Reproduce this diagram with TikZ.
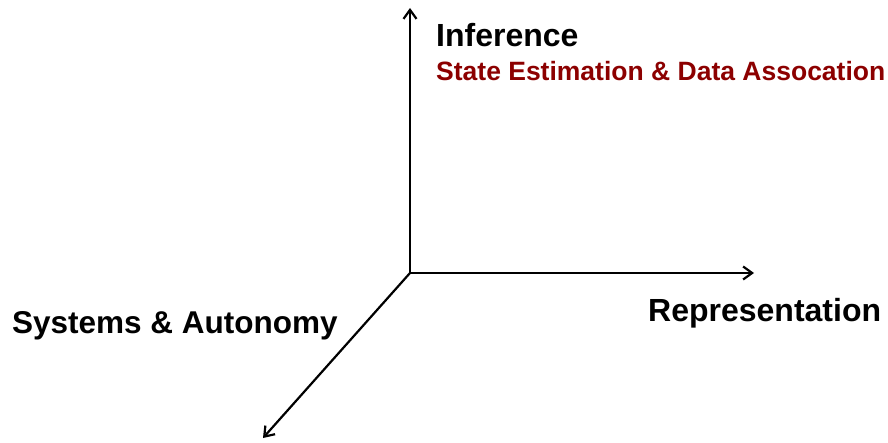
\documentclass[tikz,border=0pt]{standalone}
\usepackage{fontspec}
\setmainfont{Liberation Sans}
\usepackage{tikz}
\usetikzlibrary{arrows.meta}
\definecolor{darkred}{RGB}{140,0,0}

\begin{document}
\begin{tikzpicture}[x=1pt,y=-1pt,
    axis/.style={line width=2.2pt, -{Straight Barb[length=9pt,width=13pt]}},
    lbl/.style={anchor=base west, inner sep=0pt, font=\bfseries\fontsize{32}{38}\selectfont}]
    \useasboundingbox (0,0) rectangle (888,443);
    % 軸
    \coordinate (O) at (410,273);
    \coordinate (yend) at (410,8);
    \coordinate (xend) at (754,273);
    \coordinate (zend) at (263,438);
    \draw[axis] (O)--(yend);
    \draw[axis] (O)--(xend);
    \draw[axis] (O)--(zend);
    % ラベル
    \node[lbl] (inference) at (436,47) {Inference};
    \node[lbl, text=darkred, font=\bfseries\fontsize{26.5}{32}\selectfont] (stateest) at (436,81) {State Estimation \& Data Assocation};
    \node[lbl] (repr) at (648,321) {Representation};
    \node[lbl, font=\bfseries\fontsize{31.5}{37}\selectfont] (systems) at (12,333) {Systems \& Autonomy};
\end{tikzpicture}
\end{document}
